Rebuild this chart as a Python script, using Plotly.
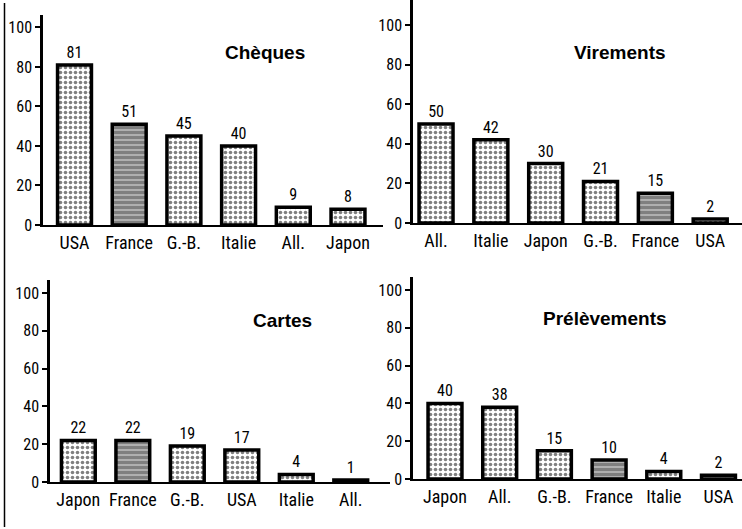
import plotly.graph_objects as go

W, H = 742, 529

cheques_pays = ["USA", "France", "G.-B.", "Italie", "All.", "Japon"]
cheques_val = [81, 51, 45, 40, 9, 8]

virements_pays = ["All.", "Italie", "Japon", "G.-B.", "France", "USA"]
virements_val = [50, 42, 30, 21, 15, 2]

cartes_pays = ["Japon", "France", "G.-B.", "USA", "Italie", "All."]
cartes_val = [22, 22, 19, 17, 4, 1]

prelev_pays = ["Japon", "All.", "G.-B.", "France", "Italie", "USA"]
prelev_val = [40, 38, 15, 10, 4, 2]

y_ticks = [0, 20, 40, 60, 80, 100]

NARROW = "Roboto Condensed, Liberation Sans Narrow, sans-serif"
BOLD = "Liberation Sans, Arial, Helvetica, sans-serif"

# panel geometry in pixels: (x0, x1, ybottom, ytop, xrange, yrange_top)
panels = [
    ("Chèques", cheques_pays, cheques_val, (43, 383, 225, 15, [-0.576, 5.64], 106.3), (265, 52)),
    ("Virements", virements_pays, virements_val, (413, 742, 223, 0, [-0.42, 5.58], 112.6), (620, 52)),
    ("Cartes", cartes_pays, cartes_val, (50, 390, 482, 280, [-0.52, 5.72], 106.9), (282, 320)),
    ("Prélèvements", prelev_pays, prelev_val, (413, 742, 479, 277, [-0.585, 5.43], 106.9), (605, 318)),
]

fig = go.Figure()
annotations = []
for i, (title, cats, vals, geo, tpos) in enumerate(panels):
    x0, x1, yb, yt, xr, ytop = geo
    n = "" if i == 0 else str(i + 1)
    shapes_ = ["-" if c == "France" else "." for c in cats]
    sol = [0.85 if c == "France" else 0.4 for c in cats]
    sizes = [5 if c == "France" else 5 for c in cats]
    fig.add_trace(go.Bar(
        x=cats, y=vals, xaxis="x" + n, yaxis="y" + n,
        width=0.62,
        marker=dict(
            color="white",
            line=dict(color="black", width=3.5),
            pattern=dict(shape=shapes_, fgcolor="black", bgcolor="white",
                         solidity=sol, size=sizes, fillmode="overlay"),
        ),
        text=[str(v) for v in vals], textposition="outside",
        textfont=dict(family=NARROW, size=16, color="black"),
        cliponaxis=False, showlegend=False, hoverinfo="skip",
    ))
    fig.update_layout(**{
        "xaxis" + n: dict(
            domain=[x0 / W, x1 / W], range=xr, anchor="y" + n,
            showline=True, linecolor="black", linewidth=2, ticks="",
            showgrid=False, zeroline=False, automargin=False,
            tickfont=dict(family=NARROW, size=18, color="black"),
            fixedrange=True,
        ),
        "yaxis" + n: dict(
            domain=[1 - yb / H, 1 - yt / H], range=[0, ytop], anchor="x" + n,
            showline=True, linecolor="black", linewidth=2.5,
            ticks="outside", ticklen=5, tickwidth=1.5, tickcolor="black",
            tickvals=y_ticks, showgrid=False, zeroline=False, automargin=False,
            tickfont=dict(family=NARROW, size=16, color="black"),
            fixedrange=True,
        ),
    })
    annotations.append(dict(
        x=tpos[0] / W, y=1 - tpos[1] / H, xref="paper", yref="paper",
        text="<b>%s</b>" % title, showarrow=False,
        font=dict(family=BOLD, size=19, color="black"),
        xanchor="center", yanchor="middle",
    ))

fig.update_layout(
    width=W, height=H,
    margin=dict(l=0, r=0, t=0, b=0, autoexpand=False),
    paper_bgcolor="white", plot_bgcolor="white",
    annotations=annotations,
    shapes=[dict(type="line", xref="paper", yref="paper",
                 x0=4.5 / W, x1=4.5 / W, y0=1 - 527 / H, y1=1 - 3 / H,
                 line=dict(color="black", width=1.5))],
)

fig.write_html("out.html", config={"displayModeBar": False},
               post_script="document.body.style.margin='0';document.body.style.overflow='hidden';")
